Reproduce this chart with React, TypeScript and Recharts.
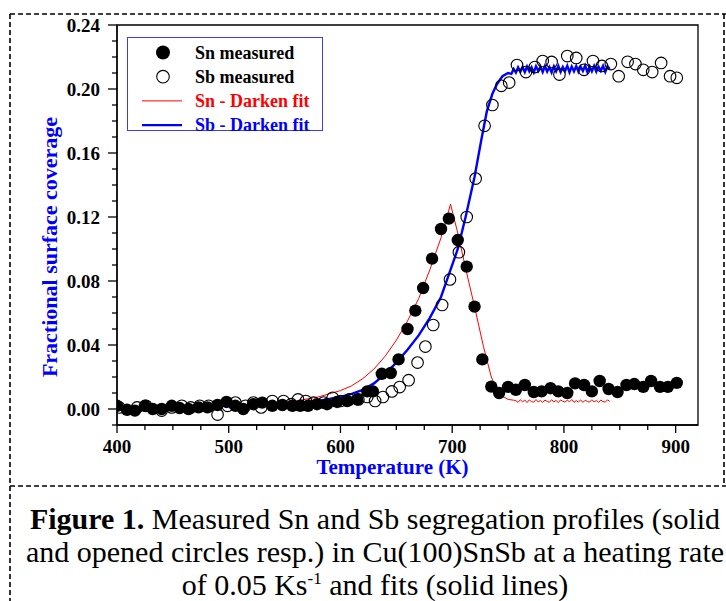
import React from 'react';
import { ComposedChart, Scatter, Line, XAxis, YAxis, ReferenceArea, Legend, Label } from 'recharts';

const FONT = '"Liberation Serif", "Times New Roman", serif';
const BLUE = '#0000ff';
const RED = '#ff0000';

// Sn measured (filled circles)
const snTemp = [400, 409, 416, 425, 432, 440, 449, 456, 464, 473, 481, 490, 498, 506, 513, 522, 530, 539, 548, 557, 564, 571, 579, 588, 597, 606, 615, 624, 629, 637, 645, 652, 660, 667, 674, 682, 690, 697, 705, 713, 720, 727, 735, 742, 750, 757, 765, 773, 780, 788, 795, 803, 810, 818, 825, 832, 840, 848, 856, 863, 871, 878, 886, 893, 901];
const snCov = [0.002, -0.0005, -0.001, 0.002, 0.0, 0.0, 0.002, 0.0006, 0.0, 0.001, 0.001, 0.0025, 0.0044, 0.002, 0.0, 0.003, 0.004, 0.002, 0.0025, 0.002, 0.002, 0.002, 0.003, 0.003, 0.0044, 0.005, 0.006, 0.011, 0.011, 0.022, 0.0225, 0.031, 0.05, 0.0615, 0.0756, 0.094, 0.1125, 0.119, 0.1056, 0.089, 0.064, 0.031, 0.014, 0.01, 0.0138, 0.012, 0.015, 0.0106, 0.011, 0.013, 0.011, 0.01, 0.016, 0.015, 0.011, 0.0175, 0.0125, 0.0106, 0.015, 0.0156, 0.0138, 0.0175, 0.0138, 0.0138, 0.0163];

// Sb measured (open circles)
const sbTemp = [402, 418, 426, 440, 449, 458, 466, 474, 482, 490, 499, 506, 515, 522, 529, 539, 549, 556, 562, 569, 576, 585, 593, 600, 608, 616, 624, 631, 638, 646, 653, 661, 669, 676, 683, 691, 698, 706, 713, 721, 729, 736, 744, 751, 758, 766, 774, 781, 789, 796, 803, 811, 818, 826, 834, 842, 849, 857, 864, 871, 879, 887, 895, 901];
const sbCov = [0.001, 0.001, 0.002, -0.001, 0.001, 0.002, 0.001, 0.002, 0.002, -0.0035, 0.002, 0.004, 0.002, 0.004, 0.001, 0.005, 0.005, 0.003, 0.006, 0.005, 0.004, 0.004, 0.007, 0.005, 0.006, 0.006, 0.0075, 0.005, 0.0075, 0.011, 0.0137, 0.018, 0.029, 0.039, 0.0525, 0.065, 0.081, 0.098, 0.12, 0.144, 0.177, 0.19, 0.202, 0.204, 0.215, 0.2106, 0.2137, 0.2175, 0.2169, 0.209, 0.2206, 0.2194, 0.212, 0.2175, 0.2144, 0.2156, 0.208, 0.217, 0.2156, 0.212, 0.2106, 0.2163, 0.208, 0.207];

// Sn - Darken fit
const snFitTemp = [500, 520, 540, 560, 580, 600, 610, 620, 630, 640, 650, 660, 670, 680, 690, 698.5, 705, 712, 720, 728, 735, 740, 745, 750, 755, 757, 759, 761, 763, 765, 767, 769, 771, 773, 775, 777, 779, 781, 783, 785, 787, 789, 791, 793, 795, 797, 799, 801, 803, 805, 807, 809, 811, 813, 815, 817, 819, 821, 823, 825, 827, 829, 831, 833, 835, 837, 839, 841];
const snFitCov = [0.002, 0.003, 0.004, 0.005, 0.0075, 0.0115, 0.0145, 0.019, 0.025, 0.033, 0.043, 0.055, 0.069, 0.087, 0.107, 0.128, 0.11, 0.088, 0.064, 0.039, 0.02, 0.012, 0.008, 0.006, 0.0055, 0.0052, 0.0041, 0.0058, 0.0045, 0.0056, 0.0040, 0.0057, 0.0046, 0.0043, 0.0059, 0.0044, 0.0054, 0.0041, 0.0056, 0.0047, 0.0042, 0.0058, 0.0045, 0.0053, 0.0040, 0.0057, 0.0048, 0.0043, 0.0055, 0.0045, 0.0059, 0.0042, 0.0052, 0.0044, 0.0057, 0.0041, 0.0055, 0.0047, 0.0043, 0.0058, 0.0044, 0.0053, 0.0041, 0.0056, 0.0046, 0.0043, 0.0057, 0.0048];

// Sb - Darken fit
const sbFitTemp = [500, 520, 540, 560, 580, 600, 610, 620, 630, 640, 650, 660, 670, 680, 690, 698, 705, 712, 720, 726, 731, 736, 740, 745, 750, 753, 755, 757, 759, 761, 763, 765, 767, 769, 771, 773, 775, 777, 779, 781, 783, 785, 787, 789, 791, 793, 795, 797, 799, 801, 803, 805, 807, 809, 811, 813, 815, 817, 819, 821, 823, 825, 827, 829, 831, 833, 835, 837, 839, 841];
const sbFitCov = [0.001, 0.0015, 0.0025, 0.0035, 0.005, 0.0075, 0.0095, 0.012, 0.016, 0.022, 0.029, 0.037, 0.046, 0.057, 0.07, 0.086, 0.1, 0.12, 0.145, 0.168, 0.186, 0.197, 0.203, 0.208, 0.21, 0.2095, 0.2125, 0.2102, 0.2135, 0.2108, 0.2138, 0.2105, 0.2140, 0.2110, 0.2136, 0.2104, 0.2142, 0.2112, 0.2139, 0.2106, 0.2143, 0.2109, 0.2137, 0.2103, 0.2141, 0.2111, 0.2144, 0.2107, 0.2138, 0.2112, 0.2145, 0.2105, 0.2140, 0.2110, 0.2143, 0.2108, 0.2139, 0.2113, 0.2146, 0.2106, 0.2141, 0.2111, 0.2144, 0.2109, 0.2140, 0.2114, 0.2145, 0.2107, 0.2142, 0.2125];

const xTicks = [400, 425, 450, 475, 500, 525, 550, 575, 600, 625, 650, 675, 700, 725, 750, 775, 800, 825, 850, 875, 900];
const yTicks = [-0.01, 0, 0.01, 0.02, 0.03, 0.04, 0.05, 0.06, 0.07, 0.08, 0.09, 0.1, 0.11, 0.12, 0.13, 0.14, 0.15, 0.16, 0.17, 0.18, 0.19, 0.2, 0.21, 0.22, 0.23, 0.24];

const toPoints = (ts: number[], vs: number[]) => ts.map((t, i) => ({ t, v: vs[i] }));

const snData = toPoints(snTemp, snCov);
const sbData = toPoints(sbTemp, sbCov);
const snFit = toPoints(snFitTemp, snFitCov);
const sbFit = toPoints(sbFitTemp, sbFitCov);

const FilledDot = (p: any) => <circle cx={p.cx} cy={p.cy} r={6.2} fill="#000" />;
const OpenDot = (p: any) => <circle cx={p.cx} cy={p.cy} r={5.8} fill="none" stroke="#000" strokeWidth={1.1} />;

const XTick = (props: any) => {
  const { x, y, payload } = props;
  const major = payload.value % 100 === 0;
  return (
    <g>
      <line x1={x} x2={x} y1={y} y2={y + (major ? 8 : 5)} stroke="#000" strokeWidth={1.3} />
      {major && (
        <text x={x} y={y + 28} textAnchor="middle" fontFamily={FONT} fontWeight="bold" fontSize={19} fill="#000">
          {payload.value}
        </text>
      )}
    </g>
  );
};

const YTick = (props: any) => {
  const { x, y, payload } = props;
  const major = Math.round(payload.value * 100) % 4 === 0;
  return (
    <g>
      <line x1={x - (major ? 9 : 5)} x2={x} y1={y} y2={y} stroke="#000" strokeWidth={1.3} />
      {major && (
        <text x={x - 17} y={y + 6.5} textAnchor="end" fontFamily={FONT} fontWeight="bold" fontSize={19} fill="#000">
          {payload.value.toFixed(2)}
        </text>
      )}
    </g>
  );
};

const legendItems = [
  { name: 'Sn measured', kind: 'filled', color: '#000' },
  { name: 'Sb measured', kind: 'open', color: '#000' },
  { name: 'Sn - Darken fit', kind: 'line', color: RED, width: 1 },
  { name: 'Sb - Darken fit', kind: 'line', color: BLUE, width: 2.2 },
];

const renderLegend = () => (
  <svg width={196} height={100} style={{ display: 'block', overflow: 'visible' }}>
    <rect x={0.5} y={0.5} width={195} height={93} fill="#fff" stroke="#3b3bff" strokeWidth={1} />
    {legendItems.map((it, i) => {
      const cy = 15.5 + i * 24.2;
      return (
        <g key={it.name}>
          {it.kind === 'filled' && <circle cx={36} cy={cy} r={7} fill="#000" />}
          {it.kind === 'open' && <circle cx={36} cy={cy} r={6.3} fill="none" stroke="#000" strokeWidth={1.1} />}
          {it.kind === 'line' && <line x1={15} x2={55} y1={cy} y2={cy} stroke={it.color} strokeWidth={it.width} />}
          <text x={68} y={cy + 6} fontFamily={FONT} fontWeight="bold" fontSize={18} fill={it.color}>
            {it.name}
          </text>
        </g>
      );
    })}
  </svg>
);

const DashedFrame = () => (
  <svg width={726} height={601} style={{ position: 'absolute', left: 0, top: 0, pointerEvents: 'none' }}>
    <g stroke="#000" strokeWidth={1.6} strokeDasharray="5 3">
      <line x1={10} y1={14} x2={726} y2={14} />
      <line x1={10} y1={14} x2={10} y2={601} />
      <line x1={724} y1={14} x2={724} y2={486} />
      <line x1={10} y1={486} x2={726} y2={486} />
    </g>
  </svg>
);

export default function App() {
  return (
    <div style={{ position: 'absolute', left: 0, top: 0, width: 726, height: 601, background: '#fff', overflow: 'hidden' }}>
      <ComposedChart width={726} height={487} margin={{ top: 25, right: 28, left: 0, bottom: 10 }}>
        <XAxis
          type="number"
          dataKey="t"
          domain={[400, 920]}
          ticks={xTicks}
          interval={0}
          allowDataOverflow
          height={52}
          tickSize={0}
          tickMargin={0}
          tick={<XTick />}
          axisLine={{ stroke: '#000', strokeWidth: 1.3 }}
        >
          <Label
            content={(p: any) => (
              <text
                x={p.viewBox.x + p.viewBox.width / 2 - 15}
                y={p.viewBox.y + 49}
                textAnchor="middle"
                fontFamily={FONT}
                fontWeight="bold"
                fontSize={21}
                fill={BLUE}
              >
                Temperature (K)
              </text>
            )}
          />
        </XAxis>
        <YAxis
          type="number"
          dataKey="v"
          domain={[-0.01, 0.24]}
          ticks={yTicks}
          interval={0}
          allowDataOverflow
          width={117}
          tickSize={0}
          tickMargin={0}
          tick={<YTick />}
          axisLine={{ stroke: '#000', strokeWidth: 1.3 }}
        >
          <Label
            content={() => (
              <text
                x={49}
                y={247}
                transform="rotate(-90 49 247)"
                textAnchor="middle"
                dominantBaseline="central"
                fontFamily={FONT}
                fontWeight="bold"
                fontSize={22}
                fill={BLUE}
              >
                Fractional surface coverage
              </text>
            )}
          />
        </YAxis>
        <ReferenceArea x1={400} x2={920} y1={-0.01} y2={0.24} fill="none" stroke="#000" strokeWidth={1.3} />
        <Scatter name="Sb measured" data={sbData} shape={OpenDot} isAnimationActive={false} />
        <Scatter name="Sn measured" data={snData} shape={FilledDot} isAnimationActive={false} />
        <Line name="Sn - Darken fit" data={snFit} dataKey="v" type="linear" stroke={RED} strokeWidth={1} dot={false} isAnimationActive={false} />
        <Line name="Sb - Darken fit" data={sbFit} dataKey="v" type="linear" stroke={BLUE} strokeWidth={2.4} dot={false} isAnimationActive={false} />
        <Legend
          layout="vertical"
          align="center"
          verticalAlign="middle"
          content={renderLegend}
          wrapperStyle={{ left: 127, top: 37, width: 196, height: 100 }}
        />
      </ComposedChart>
      <DashedFrame />
      <div
        style={{
          position: 'absolute',
          left: 10,
          top: 502,
          width: 730,
          textAlign: 'center',
          fontFamily: FONT,
          fontSize: 30,
          lineHeight: '33px',
          whiteSpace: 'nowrap',
          color: '#000',
        }}
      >
        <b>Figure 1.</b> Measured Sn and Sb segregation profiles (solid
        <br />
        and opened circles resp.) in Cu(100)SnSb at a heating rate
        <br />
        of 0.05 Ks<sup style={{ fontSize: 17, lineHeight: 0 }}>-1</sup> and fits (solid lines)
      </div>
    </div>
  );
}
